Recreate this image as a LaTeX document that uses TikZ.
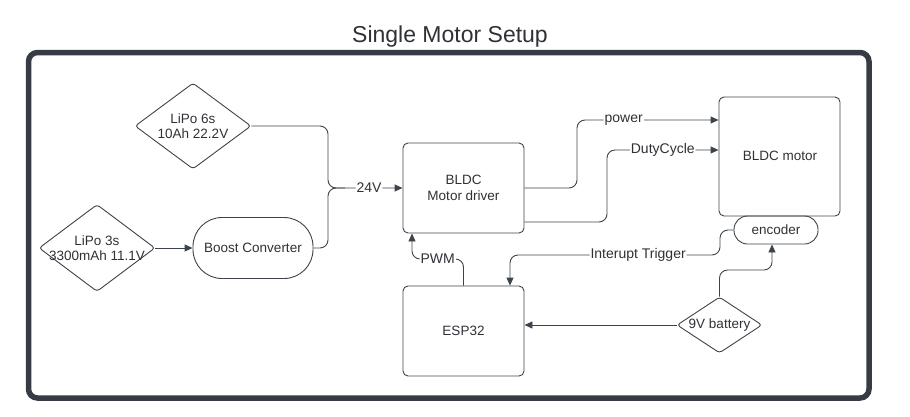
\documentclass[tikz,border=0pt]{standalone}
\usepackage{fontspec}
\setmainfont{Liberation Sans}
\usetikzlibrary{shapes.geometric,arrows.meta,calc}
\definecolor{ln}{HTML}{3D434B}
\definecolor{tx}{HTML}{2E3136}
\begin{document}
\begin{tikzpicture}[x=1pt,y=-1pt,
  every node/.style={text=tx,font=\fontsize{13.5}{15.5}\selectfont},
  box/.style={draw=ln,line width=0.9pt,rounded corners=5pt,inner sep=0pt},
  dia/.style={draw=ln,line width=0.9pt,diamond,inner sep=0pt,rounded corners=3pt},
  conn/.style={draw=ln,line width=0.9pt,rounded corners=8pt},
  arr/.style={conn,-{Triangle[length=8pt,width=7pt]}},
  lab/.style={fill=white,inner sep=1pt,font=\fontsize{14}{16}\selectfont}]
\useasboundingbox (0,0) rectangle (910,416);
% title and frame
\node (title) at (450,37) {\fontsize{23}{26}\selectfont Single Motor Setup};
\draw[draw=ln!90!black,line width=5.5pt,rounded corners=9pt] (28.5,52.5) rectangle (869,398);
% nodes
\node[dia,minimum width=116pt,minimum height=86pt] (lipo6) at (193,126) {};
\node[align=center] (lipo6t) at (lipo6.center) {LiPo 6s\\10Ah 22.2V};
\node[dia,minimum width=116pt,minimum height=87pt] (lipo3) at (97,248) {};
\node[align=center] (lipo3t) at (lipo3.center) {LiPo 3s\\3300mAh 11.1V};
\node[draw=ln,line width=0.9pt,rounded corners=29pt,minimum width=120pt,minimum height=61pt] (boost) at (253,248) {Boost Converter};
\node[box,minimum width=121pt,minimum height=90pt,align=center] (drv) at (463.5,188) {BLDC\\Motor driver};
\node[box,minimum width=121pt,minimum height=119pt] (motor) at (779.5,156.5) {};
\node (motort) at (780,156) {BLDC motor};
\node[draw=ln,line width=0.9pt,rounded corners=13.5pt,minimum width=84pt,minimum height=28pt] (enc) at (776,230) {encoder};
\node[box,minimum width=121pt,minimum height=90pt] (esp) at (463.5,331) {ESP32};
\node[dia,minimum width=85pt,minimum height=56pt] (bat) at (719.5,325) {};
\node (batt) at (bat.center) {9V battery};
% connectors
\draw[arr] (lipo3.east) -- (boost.west);
\draw[conn] (boost.east) -- (328,248) -- (328,188) -- (345,188);
\draw[arr] (lipo6.east) -- (328,126) -- (328,188) -- node[lab,pos=0.55] (l24) {24V} (drv.west);
\draw[arr] (drv.east) -- (577,188) -- (577,120) -- node[lab,pos=0.33] (lpow) {power} ([yshift=36.5pt]motor.west);
\draw[arr] ([yshift=-34pt]drv.east) -- (607,222) -- (607,150) -- node[lab,pos=0.5] (ldc) {DutyCycle} ([yshift=6.5pt]motor.west);
\draw[arr] (enc.west) -- (720,230) -- (720,255) -- node[lab,pos=0.39] (lint) {Interupt Trigger} (510,255) -- ([xshift=46.5pt]esp.north);
\draw[arr] (esp.north) -- (463.5,259) -- node[lab,pos=0.5] (lpwm) {PWM} (412,259) -- ([xshift=-51.5pt]drv.south);
\draw[arr] (bat.west) -- (esp.east |- bat.west);
\draw[arr] (bat.north) -- (719.5,270) -- (772,270) -- ([xshift=-4pt]enc.south);
\end{tikzpicture}
\end{document}
